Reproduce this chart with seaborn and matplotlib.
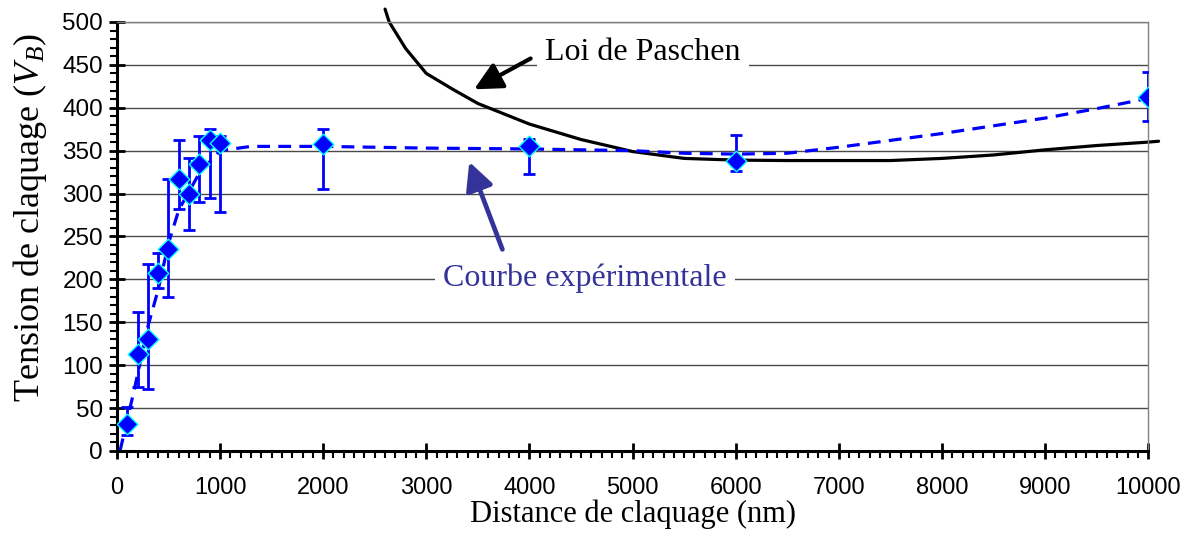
import numpy as np
import pandas as pd
import matplotlib
matplotlib.use('Agg')
import matplotlib.pyplot as plt
from matplotlib.ticker import MultipleLocator
import seaborn as sns

# points de mesure (distance en nm, tension en V)
dist_nm = [100, 200, 300, 400, 500, 600, 700, 800, 900, 1000, 2000, 4000, 6000, 10000]
tension = [32, 113, 131, 208, 235, 317, 300, 334, 363, 359, 358, 355, 338, 412]
borne_haute = [51, 162, 218, 231, 317, 362, 341, 367, 375, 367, 375, 364, 368, 442]
borne_basse = [19, 74, 72, 190, 180, 282, 257, 290, 295, 278, 305, 323, 326, 385]

# courbe experimentale lissee (pointilles)
courbe_x = [30, 175, 300, 400, 500, 600, 800, 1000, 1300, 2000, 3000, 4000, 5000, 5500,
            6000, 6500, 7000, 7500, 8000, 8500, 9000, 9500, 10000]
courbe_y = [0, 75, 145, 188, 242, 281, 324, 350, 355, 355, 353, 352, 350, 347,
            346, 347, 354, 362, 370, 379, 388, 399, 411]

# loi de Paschen
paschen_x = [2600, 2640, 2800, 3000, 3250, 3500, 4000, 4500, 5000, 5500, 6000, 6500,
             7000, 7500, 8000, 8500, 9000, 9500, 10000, 10100]
paschen_y = [515, 500, 469, 440, 422, 405, 381, 363, 349, 341, 339, 338.5,
             338.5, 338.5, 341, 345, 351, 356, 360, 361]

mesures = pd.DataFrame({'distance': dist_nm, 'tension': tension})
courbe = pd.DataFrame({'distance': courbe_x, 'tension': courbe_y})
paschen = pd.DataFrame({'distance': paschen_x, 'tension': paschen_y})

sns.set_style('white')
plt.rcParams['font.family'] = ['Liberation Sans', 'DejaVu Sans']
plt.rcParams['text.color'] = 'black'
plt.rcParams['axes.labelcolor'] = 'black'
plt.rcParams['xtick.color'] = 'black'
plt.rcParams['ytick.color'] = 'black'
plt.rcParams['mathtext.fontset'] = 'custom'
plt.rcParams['mathtext.it'] = 'Liberation Serif:italic'
plt.rcParams['mathtext.rm'] = 'Liberation Serif'

fig = plt.figure(figsize=(11.93, 5.36), dpi=100)
ax = fig.add_axes([0.098, 0.1586, 0.8645, 0.8004])

ax.set_xlim(0, 10000)
ax.set_ylim(0, 500)
ax.yaxis.set_major_locator(MultipleLocator(50))
ax.yaxis.set_minor_locator(MultipleLocator(10))
ax.xaxis.set_major_locator(MultipleLocator(1000))
ax.xaxis.set_minor_locator(MultipleLocator(100))
ax.grid(axis='y', which='major', color='#4a4a4a', lw=1)
ax.grid(axis='x', visible=False)
ax.set_axisbelow(True)

sns.lineplot(data=paschen, x='distance', y='tension', sort=False, estimator=None,
             color='black', lw=2.3, ax=ax)
ax.lines[-1].set_clip_on(False)

sns.lineplot(data=courbe, x='distance', y='tension', sort=False, estimator=None,
             color='#0000ff', lw=2.3, ax=ax)
ax.lines[-1].set_dashes((4, 2.6))

err = [np.array(tension) - np.array(borne_basse), np.array(borne_haute) - np.array(tension)]
ax.errorbar(dist_nm, tension, yerr=err, fmt='none', ecolor='#0000ff', elinewidth=2,
            capsize=4, capthick=2, zorder=4)
sns.scatterplot(data=mesures, x='distance', y='tension', marker='D', s=110,
                color='#0000ff', edgecolor='#00ffff', linewidth=1, zorder=5, ax=ax)

# annotations
ax.annotate('', xy=(3440, 420), xytext=(4035, 459),
            arrowprops=dict(arrowstyle='-|>', color='black', lw=3, mutation_scale=42))
ax.annotate('', xy=(3407, 340), xytext=(3747, 232),
            arrowprops=dict(arrowstyle='-|>', color='#333399', lw=3.4, mutation_scale=42))
ax.text(5102, 464, 'Loi de Paschen', family='Liberation Serif', fontsize=23,
        ha='center', va='center', color='black',
        bbox=dict(fc='white', ec='none', pad=6), zorder=3)
ax.text(4539, 201, 'Courbe expérimentale', family='Liberation Serif', fontsize=23,
        ha='center', va='center', color='#333399',
        bbox=dict(fc='white', ec='none', pad=6), zorder=3)

# axes
for c in ['left', 'bottom']:
    ax.spines[c].set_color('black')
    ax.spines[c].set_linewidth(2.2)
for c in ['top', 'right']:
    ax.spines[c].set_color('#808080')
    ax.spines[c].set_linewidth(1)
ax.tick_params(which='major', direction='inout', length=12, width=2, color='black',
               left=True, bottom=True)
ax.tick_params(which='minor', direction='out', length=5, width=1.5, color='black',
               left=True, bottom=True)
ax.tick_params(axis='y', which='major', labelsize=17.5, pad=4, labelcolor='black')
ax.tick_params(axis='x', which='major', labelsize=17, pad=13, labelcolor='black')

ax.set_xlabel('Distance de claquage (nm)', family='Liberation Serif', fontsize=22)
ax.set_ylabel('Tension de claquage ($V_B$)', family='Liberation Serif', fontsize=26)
ax.xaxis.set_label_coords(0.5, -0.113)
ax.yaxis.set_label_coords(-0.066, 0.545)

fig.savefig('out.png', dpi=100)
